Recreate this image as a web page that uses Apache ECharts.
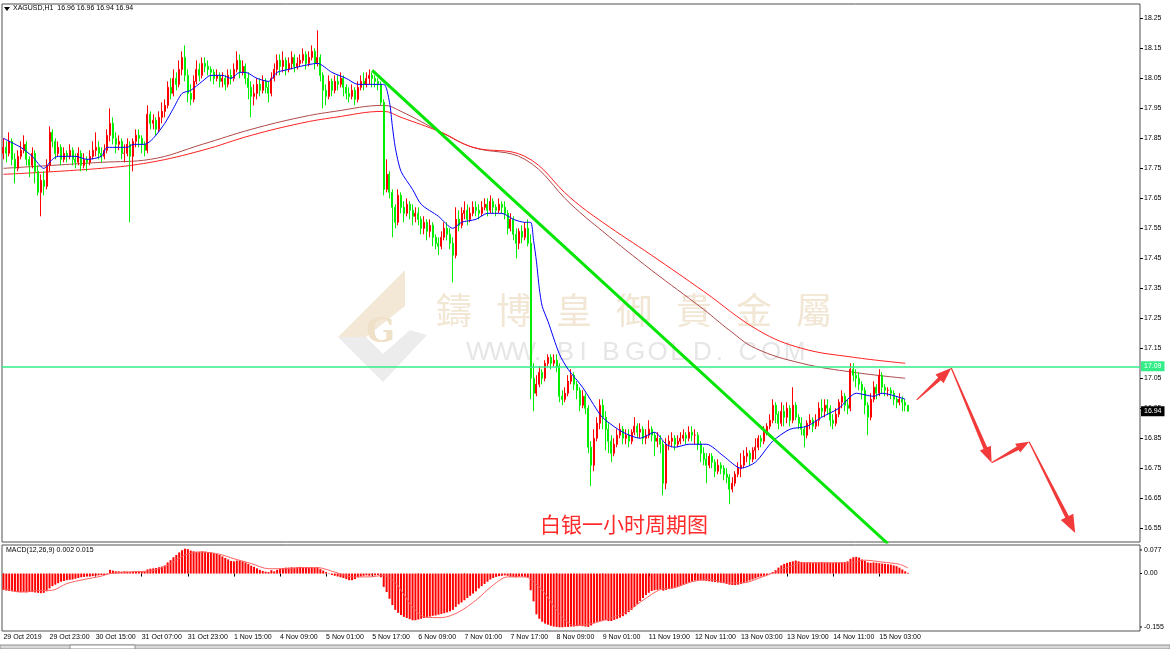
<!DOCTYPE html>
<html><head><meta charset="utf-8">
<script src="https://cdn.jsdelivr.net/npm/echarts@6/dist/echarts.min.js"></script>
<style>html,body{margin:0;padding:0;background:#fff;}#c{width:1170px;height:649px;}</style>
</head><body><div id="c"></div>
<script>
// ---------- DATA ----------
const tickLabels = ["29 Oct 2019","29 Oct 23:00","30 Oct 15:00","31 Oct 07:00","31 Oct 23:00","1 Nov 15:00","4 Nov 09:00","5 Nov 01:00","5 Nov 17:00","6 Nov 09:00","7 Nov 01:00","7 Nov 17:00","8 Nov 09:00","9 Nov 01:00","11 Nov 19:00","12 Nov 11:00","13 Nov 03:00","13 Nov 19:00","14 Nov 11:00","15 Nov 03:00"];
const priceTicks = [16.55,16.65,16.75,16.85,16.95,17.05,17.15,17.25,17.35,17.45,17.55,17.65,17.75,17.85,17.95,18.05,18.15,18.25];
const macdTicks = [0.077, 0, -0.155];
const macdTickText = ["0.077", "0.00", "-0.155"];
const firstOpen = 17.80;
const closes = [
17.82,17.80,17.84,17.78,17.75,17.79,17.81,17.83,17.78,17.76,17.80,17.74,17.67,17.71,17.69,17.76,
17.87,17.84,17.80,17.82,17.78,17.80,17.79,17.81,17.78,17.77,17.80,17.76,17.78,17.77,17.79,17.81,
17.82,17.80,17.79,17.81,17.86,17.90,17.85,17.83,17.84,17.80,17.80,17.83,17.79,17.84,17.86,17.85,
17.83,17.81,17.93,17.90,17.91,17.88,17.92,17.94,17.96,18.02,18.00,18.05,18.03,18.08,18.12,18.06,
18.00,17.98,18.04,18.08,18.06,18.10,18.09,18.08,18.07,18.05,18.06,18.04,18.05,18.03,18.06,18.05,
18.08,18.11,18.07,18.09,18.05,18.02,17.99,18.00,18.03,18.01,18.04,18.02,18.00,18.05,18.08,18.11,
18.09,18.11,18.08,18.10,18.12,18.09,18.10,18.11,18.13,18.10,18.12,18.14,18.10,18.12,18.06,18.01,
17.99,18.04,18.01,18.04,18.03,18.05,18.02,18.00,17.99,18.01,17.98,18.02,18.04,18.03,18.05,18.06,
18.05,18.04,18.03,17.97,17.68,17.73,17.67,17.62,17.57,17.66,17.62,17.60,17.63,17.61,17.59,17.60,
17.58,17.55,17.57,17.54,17.56,17.52,17.50,17.49,17.52,17.55,17.53,17.50,17.46,17.58,17.56,17.60,
17.61,17.58,17.60,17.62,17.61,17.60,17.62,17.63,17.61,17.64,17.62,17.61,17.63,17.62,17.60,17.55,
17.58,17.53,17.50,17.54,17.52,17.55,17.50,17.05,17.00,17.03,17.07,17.05,17.10,17.12,17.10,17.11,
17.09,16.99,16.98,17.00,17.04,17.06,17.03,17.01,16.96,16.99,16.95,16.82,16.76,16.85,16.90,16.96,
16.92,16.88,16.84,16.80,16.83,16.86,16.88,16.85,16.86,16.84,16.87,16.89,16.87,16.88,16.85,16.86,
16.88,16.86,16.84,16.85,16.83,16.70,16.83,16.84,16.85,16.83,16.84,16.85,16.86,16.85,16.87,16.86,
16.86,16.83,16.80,16.78,16.76,16.79,16.77,16.74,16.76,16.75,16.73,16.72,16.68,16.70,16.73,16.75,
16.76,16.79,16.80,16.78,16.81,16.82,16.85,16.84,16.87,16.89,16.91,16.96,16.93,16.90,16.94,16.92,
16.95,16.91,16.96,16.92,16.90,16.88,16.86,16.90,16.91,16.89,16.91,16.95,16.94,16.96,16.95,16.91,
16.90,16.93,16.97,16.99,16.96,16.95,17.08,17.06,17.05,17.03,17.01,16.96,16.92,16.98,17.02,17.00,
17.06,17.02,17.01,17.01,17.00,16.98,16.97,16.98,16.97,16.96,16.94];
const highs = [
17.85,17.84,17.87,17.85,17.80,17.81,17.84,17.86,17.84,17.79,17.82,17.81,17.76,17.73,17.74,17.78,
17.89,17.88,17.85,17.84,17.83,17.82,17.81,17.83,17.82,17.80,17.82,17.81,17.80,17.79,17.81,17.84,
17.87,17.84,17.82,17.83,17.88,17.95,17.92,17.87,17.86,17.85,17.83,17.85,17.84,17.85,17.88,17.88,
17.86,17.84,17.96,17.94,17.93,17.92,17.94,17.97,17.98,18.04,18.05,18.08,18.07,18.11,18.14,18.16,
18.08,18.03,18.06,18.11,18.10,18.12,18.12,18.11,18.09,18.08,18.08,18.07,18.07,18.06,18.08,18.08,
18.10,18.14,18.13,18.11,18.10,18.07,18.04,18.03,18.05,18.05,18.06,18.05,18.04,18.07,18.10,18.13,
18.13,18.14,18.12,18.12,18.14,18.13,18.12,18.13,18.15,18.14,18.14,18.16,18.15,18.21,18.13,18.07,
18.03,18.06,18.05,18.06,18.06,18.07,18.06,18.03,18.02,18.03,18.02,18.04,18.06,18.07,18.07,18.08,
18.07,18.06,18.05,18.04,17.98,17.78,17.74,17.68,17.63,17.68,17.67,17.64,17.65,17.64,17.63,17.62,
17.62,17.59,17.59,17.58,17.58,17.57,17.53,17.52,17.54,17.57,17.57,17.55,17.52,17.62,17.61,17.62,
17.64,17.63,17.62,17.64,17.64,17.63,17.64,17.65,17.65,17.66,17.65,17.63,17.65,17.64,17.64,17.61,
17.60,17.59,17.55,17.55,17.56,17.57,17.58,17.53,17.10,17.06,17.09,17.08,17.11,17.13,17.13,17.13,
17.13,17.10,17.01,17.02,17.06,17.08,17.07,17.04,17.02,17.01,17.00,16.96,16.84,16.88,16.92,16.98,
16.98,16.94,16.90,16.86,16.85,16.88,16.90,16.89,16.88,16.88,16.88,16.92,16.90,16.90,16.89,16.88,
16.91,16.89,16.87,16.87,16.86,16.84,16.85,16.86,16.87,16.86,16.86,16.87,16.88,16.87,16.89,16.89,
16.88,16.87,16.84,16.82,16.80,16.80,16.80,16.78,16.78,16.77,16.76,16.75,16.73,16.72,16.74,16.77,
16.80,16.81,16.82,16.81,16.82,16.85,16.86,16.86,16.89,16.90,16.93,16.98,16.97,16.94,16.97,16.96,
16.97,16.96,17.02,16.97,16.93,16.92,16.89,16.91,16.93,16.92,16.93,16.97,16.98,16.98,16.98,16.96,
16.93,16.95,16.98,17.01,17.00,16.98,17.10,17.10,17.08,17.07,17.04,17.02,16.97,17.00,17.04,17.03,
17.08,17.07,17.03,17.02,17.02,17.01,16.99,17.00,16.99,16.98,16.96];
const lows = [
17.78,17.77,17.79,17.76,17.70,17.74,17.78,17.80,17.76,17.72,17.75,17.70,17.66,17.59,17.66,17.68,
17.74,17.82,17.78,17.79,17.76,17.77,17.77,17.78,17.76,17.75,17.76,17.74,17.75,17.74,17.76,17.78,
17.79,17.78,17.77,17.78,17.80,17.84,17.83,17.80,17.81,17.78,17.77,17.79,17.57,17.74,17.82,17.82,
17.80,17.79,17.80,17.88,17.88,17.86,17.87,17.90,17.92,17.95,17.98,17.99,18.01,18.02,18.06,18.04,
17.97,17.96,17.97,18.03,18.04,18.05,18.07,18.06,18.04,18.03,18.04,18.02,18.02,18.01,18.02,18.03,
18.04,18.07,18.05,18.06,18.03,17.98,17.92,17.96,17.98,17.99,18.00,18.00,17.97,17.99,18.04,18.06,
18.06,18.07,18.06,18.07,18.08,18.07,18.08,18.09,18.10,18.08,18.09,18.11,18.08,18.09,18.04,17.95,
17.96,17.98,17.99,18.00,18.01,18.02,17.99,17.98,17.97,17.98,17.96,17.97,18.01,18.01,18.02,18.03,
18.02,18.02,18.01,17.96,17.66,17.67,17.65,17.52,17.55,17.56,17.60,17.57,17.59,17.58,17.56,17.57,
17.56,17.53,17.53,17.51,17.52,17.49,17.48,17.46,17.48,17.51,17.51,17.48,17.37,17.45,17.54,17.55,
17.58,17.56,17.57,17.59,17.59,17.58,17.59,17.61,17.59,17.60,17.60,17.59,17.60,17.60,17.58,17.53,
17.54,17.51,17.45,17.48,17.50,17.51,17.49,16.98,16.94,16.99,17.02,17.03,17.04,17.09,17.08,17.09,
17.07,16.97,16.96,16.97,16.99,17.03,17.01,16.98,16.94,16.95,16.93,16.80,16.69,16.74,16.84,16.88,
16.88,16.81,16.80,16.77,16.79,16.82,16.85,16.83,16.83,16.82,16.83,16.86,16.85,16.85,16.83,16.83,
16.85,16.84,16.79,16.82,16.80,16.66,16.68,16.81,16.82,16.81,16.82,16.83,16.84,16.83,16.84,16.84,
16.83,16.81,16.77,16.76,16.70,16.75,16.75,16.72,16.73,16.73,16.71,16.70,16.63,16.67,16.69,16.72,
16.72,16.75,16.77,16.76,16.77,16.78,16.81,16.82,16.83,16.86,16.88,16.90,16.90,16.88,16.89,16.89,
16.90,16.89,16.90,16.91,16.88,16.86,16.82,16.85,16.88,16.87,16.88,16.89,16.92,16.92,16.93,16.89,
16.88,16.89,16.92,16.95,16.94,16.93,16.94,17.04,17.02,17.01,16.98,16.93,16.86,16.91,16.97,16.98,
16.99,17.00,16.99,16.99,16.98,16.96,16.95,16.96,16.94,16.94,16.94];
const maBlue = [[0,17.85],[6,17.82],[10,17.79],[14,17.75],[17,17.78],[19,17.79],[25,17.79],[29,17.78],[34,17.79],[36,17.82],[40,17.82],[43,17.82],[45,17.83],[49,17.83],[52,17.85],[56,17.90],[59,17.95],[62,18.00],[65,18.01],[69,18.04],[72,18.06],[76,18.06],[79,18.05],[82,18.07],[84,18.07],[88,18.05],[92,18.04],[95,18.07],[99,18.08],[103,18.09],[109,18.10],[114,18.07],[119,18.05],[123,18.03],[127,18.03],[132,18.03],[134,17.97],[135,17.89],[136,17.82],[138,17.74],[142,17.68],[145,17.63],[151,17.59],[156,17.55],[159,17.57],[164,17.58],[168,17.60],[173,17.60],[177,17.58],[181,17.57],[183,17.57],[184,17.51],[185,17.44],[186,17.35],[187,17.29],[189,17.24],[193,17.13],[196,17.08],[201,17.02],[207,16.93],[209,16.91],[215,16.87],[221,16.85],[226,16.87],[230,16.83],[233,16.82],[238,16.83],[244,16.83],[250,16.79],[256,16.75],[261,16.77],[267,16.84],[273,16.88],[279,16.89],[284,16.92],[290,16.95],[296,17.00],[302,16.99],[305,17.00],[313,16.98]];
const maRed = [[0,17.73],[34,17.75],[51,17.77],[69,17.81],[86,17.86],[103,17.90],[115,17.92],[132,17.94],[138,17.92],[152,17.87],[163,17.82],[181,17.79],[197,17.65],[208,17.57],[225,17.46],[243,17.34],[262,17.21],[277,17.15],[295,17.12],[313,17.10]];
const maBrown = [[0,17.75],[34,17.77],[51,17.78],[69,17.83],[86,17.88],[103,17.92],[115,17.94],[132,17.96],[138,17.94],[152,17.87],[163,17.82],[181,17.78],[197,17.63],[208,17.54],[225,17.41],[243,17.28],[252,17.21],[261,17.15],[277,17.10],[295,17.07],[313,17.05]];
const macdHist = [
-0.044,-0.046,-0.047,-0.048,-0.049,-0.050,-0.050,-0.050,-0.051,-0.050,-0.050,-0.051,-0.052,-0.053,-0.052,-0.048,
-0.040,-0.034,-0.030,-0.026,-0.022,-0.020,-0.018,-0.017,-0.016,-0.014,-0.012,-0.010,-0.009,-0.008,-0.008,-0.007,
-0.006,-0.005,-0.004,-0.004,-0.002,0.010,0.008,0.006,0.006,0.005,0.006,0.005,0.004,0.005,0.006,0.006,
0.006,0.006,0.011,0.013,0.014,0.015,0.017,0.019,0.022,0.030,0.036,0.044,0.050,0.057,0.063,0.067,
0.066,0.062,0.060,0.059,0.059,0.060,0.059,0.058,0.057,0.055,0.053,0.050,0.046,0.042,0.038,0.034,
0.033,0.035,0.035,0.033,0.030,0.026,0.021,0.018,0.014,0.010,0.007,0.005,0.004,0.009,0.006,0.010,
0.013,0.015,0.016,0.016,0.017,0.016,0.017,0.018,0.017,0.017,0.016,0.017,0.016,0.017,0.012,0.008,
0.004,0.001,-0.004,-0.006,-0.008,-0.010,-0.012,-0.015,-0.018,-0.018,-0.015,-0.010,-0.008,-0.006,-0.005,-0.006,
-0.005,-0.005,-0.004,-0.010,-0.036,-0.050,-0.068,-0.085,-0.098,-0.106,-0.112,-0.117,-0.120,-0.123,-0.126,-0.126,
-0.124,-0.122,-0.120,-0.118,-0.116,-0.114,-0.113,-0.111,-0.109,-0.107,-0.105,-0.102,-0.098,-0.090,-0.083,-0.078,
-0.072,-0.066,-0.060,-0.054,-0.048,-0.040,-0.034,-0.028,-0.022,-0.016,-0.012,-0.009,-0.007,-0.006,-0.005,-0.006,
-0.008,-0.009,-0.010,-0.008,-0.008,-0.009,-0.010,-0.045,-0.075,-0.110,-0.122,-0.130,-0.135,-0.138,-0.141,-0.143,
-0.144,-0.145,-0.145,-0.144,-0.144,-0.143,-0.143,-0.142,-0.141,-0.142,-0.143,-0.144,-0.140,-0.134,-0.130,-0.128,
-0.127,-0.126,-0.128,-0.128,-0.125,-0.122,-0.119,-0.115,-0.110,-0.104,-0.098,-0.090,-0.082,-0.074,-0.066,-0.058,
-0.052,-0.047,-0.045,-0.044,-0.042,-0.046,-0.044,-0.042,-0.040,-0.038,-0.036,-0.033,-0.030,-0.027,-0.024,-0.021,
-0.019,-0.018,-0.018,-0.019,-0.020,-0.021,-0.022,-0.023,-0.024,-0.025,-0.026,-0.028,-0.030,-0.031,-0.031,-0.030,
-0.028,-0.025,-0.022,-0.019,-0.016,-0.013,-0.010,-0.008,-0.006,-0.004,-0.001,0.004,0.009,0.016,0.022,0.026,
0.029,0.031,0.033,0.035,0.033,0.031,0.030,0.030,0.030,0.029,0.030,0.030,0.031,0.030,0.030,0.029,
0.029,0.030,0.030,0.030,0.031,0.033,0.040,0.044,0.045,0.043,0.038,0.034,0.030,0.029,0.030,0.029,
0.028,0.027,0.026,0.025,0.024,0.022,0.020,0.016,0.011,0.006,0.002];
const macdSignal = [[0,-0.040],[6,-0.050],[12,-0.046],[17,-0.045],[22,-0.027],[28,-0.016],[34,-0.007],[37,0.000],[45,0.005],[51,0.007],[57,0.022],[63,0.050],[69,0.058],[75,0.052],[80,0.040],[86,0.027],[92,0.013],[98,0.013],[103,0.016],[109,0.016],[115,0.004],[121,-0.009],[127,-0.009],[132,-0.005],[136,-0.025],[138,-0.045],[142,-0.090],[146,-0.117],[152,-0.119],[158,-0.104],[164,-0.072],[170,-0.031],[175,-0.009],[181,-0.009],[187,-0.045],[193,-0.108],[198,-0.140],[204,-0.135],[210,-0.122],[216,-0.104],[222,-0.072],[228,-0.043],[233,-0.038],[239,-0.022],[245,-0.016],[251,-0.025],[257,-0.025],[262,-0.013],[268,0.004],[274,0.022],[277,0.029],[288,0.029],[294,0.029],[299,0.036],[305,0.031],[311,0.025],[314,0.015]];
const resistance = 17.09;
const lastPrice = 16.94;
const trendLine = [[128,18.077],[307,16.498]];
const forecast = [[317,16.978],[329,17.084],[343,16.768],[356,16.838],[372,16.534]];
const headerText = "XAGUSD,H1  16.96 16.96 16.94 16.94";
const macdTitle = "MACD(12,26,9) 0.002 0.015";
const caption = "白银一小时周期图";
const wmChars = ["鑄","博","皇","御","貴","金","屬"];
const wmUrl = "WWW.BIBGOLD.COM";

// ---------- CHART ----------
const N = 395;
const cats = Array.from({length: N}, (_, i) => String(i));
const labelAt = {};
tickLabels.forEach((t, k) => { labelAt[k * 16] = t; });
const candles = closes.map((c, i) => {
  const o = i ? closes[i - 1] : firstOpen;
  return [o, c, Math.min(lows[i], o, c), Math.max(highs[i], o, c)];
});
const F = 'Liberation Sans';
const chart = echarts.init(document.getElementById('c'), null, {renderer: 'canvas'});
const showTick = (i) => labelAt[i] !== undefined;
chart.setOption({
  animation: false,
  backgroundColor: '#fff',
  grid: [
    {left: 2, width: 1138, top: 4, height: 538, show: true, borderColor: '#505050', borderWidth: 1},
    {left: 2, width: 1138, top: 545, height: 86, show: true, borderColor: '#505050', borderWidth: 1}
  ],
  xAxis: [
    {type: 'category', data: cats, gridIndex: 0, boundaryGap: true, axisLine: {show: false}, axisTick: {show: false}, axisLabel: {show: false}, splitLine: {show: false}},
    {type: 'category', data: cats, gridIndex: 1, boundaryGap: true, axisLine: {show: false},
     axisTick: {show: true, alignWithLabel: true, interval: showTick, length: 3, lineStyle: {color: '#000'}},
     axisLabel: {interval: showTick, formatter: (v, i) => labelAt[i] || '', align: 'left', margin: 3, fontSize: 7, fontFamily: F, color: '#000'},
     splitLine: {show: false}}
  ],
  yAxis: [
    {type: 'value', gridIndex: 0, position: 'right', min: 16.504, max: 18.298, scale: true,
     axisLine: {show: false}, axisTick: {show: true, length: 3, customValues: priceTicks, lineStyle: {color: '#000'}},
     axisLabel: {customValues: priceTicks, formatter: v => v.toFixed(2), fontSize: 7, fontFamily: F, color: '#000', margin: 4},
     splitLine: {show: false}},
    {type: 'value', gridIndex: 1, position: 'right', min: -0.155, max: 0.077,
     axisLine: {show: false}, axisTick: {show: false}, axisLabel: {show: false}, splitLine: {show: false}}
  ],
  series: [
    {type: 'line', name: 'maBrown', data: maBrown, smooth: 0.4, symbol: 'none', lineStyle: {color: '#b04848', width: 1}, z: 3, silent: true},
    {type: 'line', name: 'maRed', data: maRed, smooth: 0.4, symbol: 'none', lineStyle: {color: '#ff2020', width: 1}, z: 3, silent: true},
    {type: 'candlestick', name: 'XAGUSD', data: candles, barWidth: 1.5,
     itemStyle: {color: '#ff0000', color0: '#00ee00', borderColor: '#ff0000', borderColor0: '#00ee00', borderWidth: 1}, z: 4,
     markLine: {symbol: 'none', silent: true, animation: false,
       data: [
         {yAxis: resistance, lineStyle: {color: '#33ee88', width: 1.5, type: 'solid'},
          label: {position: 'end', formatter: resistance.toFixed(2), backgroundColor: '#33ee88', color: '#fff', fontSize: 7, fontFamily: F, padding: [2, 3, 1, 3], distance: 1}},
         {yAxis: lastPrice, lineStyle: {color: 'rgba(0,0,0,0)', width: 1, type: 'solid'},
          label: {show: true, position: 'end', formatter: lastPrice.toFixed(2), backgroundColor: '#000', color: '#fff', fontSize: 7, fontFamily: F, padding: [2, 3, 1, 3], distance: 1}}
       ]}},
    {type: 'line', name: 'maBlue', data: maBlue, smooth: 0.25, symbol: 'none', lineStyle: {color: '#0000ff', width: 1}, z: 5, silent: true},
    {type: 'line', name: 'trend', data: trendLine, symbol: 'none', lineStyle: {color: '#00e600', width: 3}, z: 6, silent: true},
    {type: 'bar', name: 'MACD', xAxisIndex: 1, yAxisIndex: 1, data: macdHist, barWidth: 2, itemStyle: {color: '#ff0000'}, silent: true},
    {type: 'line', name: 'Signal', xAxisIndex: 1, yAxisIndex: 1, data: macdSignal, smooth: 0.3, symbol: 'none', lineStyle: {color: '#ff6060', width: 1}, z: 5, silent: true}
  ]
});

// ---------- ANNOTATIONS ----------
function arrowPoly(p0, p1, head, half) {
  const dx = p1[0] - p0[0], dy = p1[1] - p0[1];
  const L = Math.hypot(dx, dy), ux = dx / L, uy = dy / L, nx = -uy, ny = ux;
  const bx = p1[0] - ux * head, by = p1[1] - uy * head;
  return [[p0[0] + nx * 0.6, p0[1] + ny * 0.6], [bx + nx * 2, by + ny * 2], [bx + nx * half, by + ny * half], [p1[0], p1[1]],
          [bx - nx * half, by - ny * half], [bx - nx * 2, by - ny * 2], [p0[0] - nx * 0.6, p0[1] - ny * 0.6]];
}
const fp = forecast.map(p => chart.convertToPixel({xAxisIndex: 0, yAxisIndex: 0}, p));
const heads = [[16, 6], [16, 6], [13, 5], [18, 7]];
const g = [];
for (let k = 0; k < fp.length - 1; k++) {
  g.push({type: 'polygon', z: 50, shape: {points: arrowPoly(fp[k], fp[k + 1], heads[k][0], heads[k][1])}, style: {fill: '#f23a3a'}});
}
// MACD scale labels (MT4 keeps the top/bottom labels inside the pane)
const macdOffsets = [5, 0, -4];
macdTicks.forEach((v, k) => {
  const py = chart.convertToPixel({xAxisIndex: 1, yAxisIndex: 1}, [0, v])[1] + macdOffsets[k];
  g.push({type: 'rect', z: 60, shape: {x: 1140, y: py - 0.5, width: 2, height: 1}, style: {fill: '#000'}});
  g.push({type: 'text', z: 60, x: 1144, y: py, style: {text: macdTickText[k], font: '7px "Liberation Sans"', fill: '#000', verticalAlign: 'middle'}});
});
// watermark logo
g.push({type: 'polygon', z: 1, shape: {points: [[405,270],[405,306],[366,337],[338,337]]}, style: {fill: '#f3e8d6'}});
g.push({type: 'polygon', z: 1, shape: {points: [[338,337],[366,337],[383,354],[410,330],[427,335],[383,382]]}, style: {fill: '#ececec'}});
g.push({type: 'text', z: 1, left: 366, top: 316, style: {text: 'G', font: 'bold 34px "DejaVu Serif"', fill: '#efe0c8'}});
wmChars.forEach((ch, k) => g.push({type: 'text', z: 1, left: 436 + k * 60, top: 292, style: {text: ch, font: '36px "Noto Sans CJK TC"', fill: '#f2e6d4'}}));
wmUrl.split('').forEach((ch, k) => g.push({type: 'text', z: 1, left: 466 + k * 22.7, top: 340, style: {text: ch, font: '26px "Liberation Sans"', fill: '#e6e6e6'}}));
// header + titles
g.push({type: 'polygon', z: 60, shape: {points: [[4,7],[10,7],[7,11]]}, style: {fill: '#000'}});
g.push({type: 'text', z: 60, left: 13, top: 5, style: {text: headerText, font: '7px "Liberation Sans"', fill: '#000'}});
g.push({type: 'text', z: 60, left: 6, top: 547, style: {text: macdTitle, font: '7px "Liberation Sans"', fill: '#000'}});
g.push({type: 'text', z: 60, left: 540, top: 514, style: {text: caption, font: '21px "Noto Sans CJK SC"', fill: '#ff2a2a'}});
// bottom tab strip
g.push({type: 'rect', z: 60, shape: {x: 0, y: 645, width: 1170, height: 4}, style: {fill: '#d8d8d8', stroke: '#909090', lineWidth: 1}});
g.push({type: 'rect', z: 61, shape: {x: 70, y: 645, width: 65, height: 4}, style: {fill: '#fff', stroke: '#909090', lineWidth: 1}});
chart.setOption({graphic: g});
</script>
</body></html>
